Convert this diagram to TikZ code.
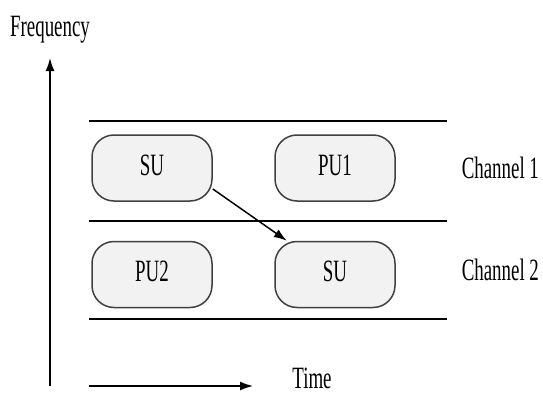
\documentclass[tikz,border=0pt]{standalone}
\usepackage{fontspec}
\setmainfont[FakeStretch=0.61]{Liberation Serif}
\usetikzlibrary{arrows.meta}
\begin{document}
\begin{tikzpicture}[x=1pt,y=-1pt,line width=1.5pt,>={Latex[length=13pt,width=9pt]},
slot/.style={draw=black!75,fill=black!5,rounded corners=22pt,minimum width=120pt,minimum height=66pt,text height=20pt,text depth=6pt,font=\fontsize{31}{34}\selectfont},
lbl/.style={font=\fontsize{31}{34}\selectfont,inner sep=0pt}]
\useasboundingbox(0,0)rectangle(543,396);
\draw(89,121)--(447,121);
\draw(89,221)--(447,221);
\draw(89,319)--(447,319);
\node[slot](su1) at (152,168){SU};
\node[slot](pu1) at (335,168){PU1};
\node[slot](pu2) at (152,274.5){PU2};
\node[slot](su2) at (335,274.5){SU};
\draw[->](su1.-19)--(su2.145);
\node[lbl,anchor=base west](ch1) at (461,178){Channel 1};
\node[lbl,anchor=base west](ch2) at (461,280){Channel 2};
\node[lbl,anchor=base](freq) at (50,37){Frequency};
\node[lbl,anchor=base](time) at (312,388){Time};
\coordinate(f0) at (50,386);
\coordinate(f1) at (50,58);
\coordinate(t0) at (89,386);
\coordinate(t1) at (253,386);
\draw[->](f0)--(f1);
\draw[->](t0)--(t1);
\end{tikzpicture}
\end{document}
